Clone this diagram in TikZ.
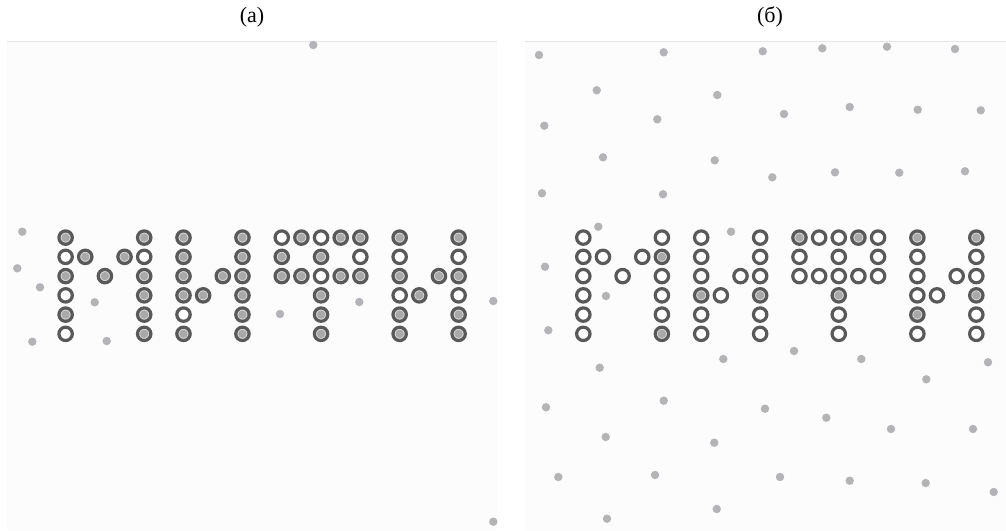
\documentclass[tikz,border=0pt]{standalone}
\usepackage{fontspec}
\setmainfont{Liberation Serif}
\usepackage{xcolor}
\usepackage{tikz}
\definecolor{ringdark}{HTML}{595959}
\definecolor{ringhalo}{HTML}{DCDCDC}
\definecolor{ringcore}{HTML}{A9A9A9}
\definecolor{speckgray}{HTML}{B3B3B8}
\definecolor{panelbg}{HTML}{FCFCFC}
\definecolor{panelline}{HTML}{E6E6E6}

\begin{document}
\begin{tikzpicture}[
  x=1pt, y=-1pt,
  font=\fontsize{22}{26}\selectfont,
  ring/.style={circle, draw=ringdark, line width=3.2pt, minimum size=13.4pt, inner sep=0pt},
  ringo/.style={ring, fill=white},
  ringf/.style={ring, fill=ringhalo,
    path picture={\fill[ringcore] (path picture bounding box.center) circle (4.2pt);}},
  speck/.style={circle, fill=speckgray, minimum size=8.4pt, inner sep=0pt},
  panel/.style={fill=panelbg},
  label/.style={inner sep=0pt},
]
\useasboundingbox (0,0) rectangle (1006,530);
\def\dx{19.65}
\def\dy{19.25}
\def\ytop{237.6}

% ---------------- panels ----------------
\fill[panel] (7,41) rectangle (497,530);
\fill[panel] (525,41) rectangle (1006,530);
\draw[panelline, line width=0.8pt] (7,41) -- (497,41);
\draw[panelline, line width=0.8pt] (525,41) -- (1006,41);
\node[label] (capa) at (252,17) {(a)};
\node[label] (capb) at (770,17) {(б)};

% ---------------- panel (a) ----------------
\def\xa{65.6}
\foreach \c/\r in {0/0,0/2,0/4,1/1,2/2,3/1,4/0,4/2,4/3,4/4,4/5,
                   6/0,6/1,6/2,6/3,6/5,7/3,8/2,9/0,9/1,9/2,9/3,9/4,9/5,
                   12/0,14/0,15/0,11/1,13/1,11/2,12/2,14/2,15/2,13/3,13/4,13/5,
                   17/0,17/2,17/4,17/5,18/3,19/2,20/0,20/2,20/4,20/5}
  \node[ringf] (a-\c-\r) at ({\xa+\c*\dx},{\ytop+\r*\dy}) {};
\foreach \c/\r in {0/1,0/3,0/5,4/1,6/4,11/0,13/0,15/1,13/2,17/1,17/3,20/1,20/3}
  \node[ringo] (a-\c-\r) at ({\xa+\c*\dx},{\ytop+\r*\dy}) {};
\foreach \px/\py [count=\i] in {313.3/45,22.3/231.7,17.3/268.3,40/287.3,94.7/302.3,
                   32.3/341.7,106.7/341,280/314,359.3/302,493.3/301,493.3/521.7}
  \node[speck] (sa\i) at (\px,\py) {};

% ---------------- panel (б) ----------------
\def\xb{583.3}
\foreach \c/\r in {4/1,4/5,6/3,9/3,11/0,14/0,13/3,17/0,17/4,20/0,20/3}
  \node[ringf] (b-\c-\r) at ({\xb+\c*\dx},{\ytop+\r*\dy}) {};
\foreach \c/\r in {0/0,0/1,0/2,0/3,0/4,0/5,1/1,2/2,3/1,4/0,4/2,4/3,4/4,
                   6/0,6/1,6/2,6/4,6/5,7/3,8/2,9/0,9/1,9/2,9/4,9/5,
                   12/0,13/0,15/0,11/1,13/1,15/1,11/2,12/2,13/2,14/2,15/2,13/4,13/5,
                   17/1,17/2,17/3,17/5,18/3,19/2,20/1,20/2,20/4,20/5}
  \node[ringo] (b-\c-\r) at ({\xb+\c*\dx},{\ytop+\r*\dy}) {};
\foreach \px/\py [count=\i] in {539/55,663.7/52.3,762.7/51.3,822.3/48.3,887/46.7,955/49,
                   596.7/90.3,717.3/95,544.3/125.7,657.3/119.3,784/114,849.7/107,917.7/109.7,980.7/110.3,
                   603/157.3,714.7/160.3,772.3/177.3,835/172.3,899.3/172.7,965/171.3,
                   542/193.3,663/194.3,598.3/226.7,731/231.7,545/266.7,606/296,548.3/330.3,
                   794/351,723.3/359,861.3/359,599.7/367.7,988/362.3,926.3/379.3,
                   546/407.3,663.7/400.7,765/408.7,826.3/417.7,891/429,973/429,
                   605.7/437,714.3/442.7,558.3/477,655/475,780/477,849.7/480.7,925.7/483,993.7/492,
                   607/518.7,716.7/509}
  \node[speck] (sb\i) at (\px,\py) {};
\end{tikzpicture}
\end{document}
